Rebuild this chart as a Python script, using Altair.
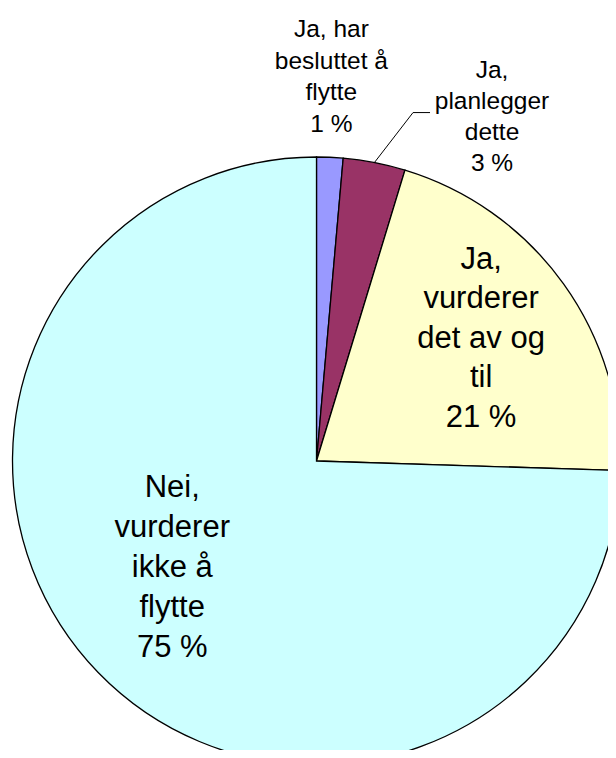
import math
import altair as alt
import pandas as pd

# ---- data -------------------------------------------------------------
categories = [
    "Ja, har besluttet å flytte",
    "Ja, planlegger dette",
    "Ja, vurderer det av og til",
    "Nei, vurderer ikke å flytte",
]
values = [1.4, 3.3, 20.8, 74.5]
pct_labels = ["1 %", "3 %", "21 %", "75 %"]
label_lines = [
    ["Ja, har", "besluttet å", "flytte"],
    ["Ja,", "planlegger", "dette"],
    ["Ja,", "vurderer", "det av og", "til"],
    ["Nei,", "vurderer", "ikke å", "flytte"],
]
colors = ["#9999FF", "#993366", "#FFFFCC", "#CCFFFF"]

# ---- layout / style ---------------------------------------------------
W, H = 600, 742
CX, CY = 308.5, 453.0
R = 304
FONT = "Liberation Sans"
total = sum(values)

df = pd.DataFrame({
    "idx": list(range(len(categories))),
    "category": categories,
    "value": values,
    "label": ["\n".join(l + [p]) for l, p in zip(label_lines, pct_labels)],
})

theta_scale = alt.Scale(domain=[0, total], range=[0, 2 * math.pi])

base = (
    alt.Chart(df)
    .transform_stack(stack="value", groupby=[], as_=["v0", "v1"],
                     sort=[alt.SortField("idx", order="ascending")])
    .transform_calculate(mid="(datum.v0 + datum.v1) / 2")
)

arcs = base.mark_arc(radius=R, stroke="black", strokeWidth=1.3).encode(
    theta=alt.Theta("v0:Q", scale=theta_scale),
    theta2="v1:Q",
    color=alt.Color("category:N", scale=alt.Scale(domain=categories, range=colors), legend=None),
    x=alt.value(CX),
    y=alt.value(CY),
)

# per-label placement: (radius, dx, dy, fontSize, lineHeight)
label_style = [
    (384, -2, 0, 24.5, 31.5),
    (386, 102, 35, 24.5, 31),
    (205, -2, -3, 31, 39.5),
    (180, -15, -18, 31, 40),
]

texts = []
for i, (rr, ddx, ddy, fs, lh) in enumerate(label_style):
    n_lines = len(label_lines[i]) + 1
    texts.append(
        base.transform_filter(alt.datum.idx == i)
        .mark_text(radius=rr, dx=ddx, dy=ddy - (n_lines - 1) / 2 * lh,
                   fontSize=fs, lineHeight=lh,
                   font=FONT, lineBreak="\n", align="center", baseline="middle",
                   color="black")
        .encode(
            theta=alt.Theta("mid:Q", scale=theta_scale),
            text="label:N",
            x=alt.value(CX),
            y=alt.value(CY),
        )
    )

# leader line for the 3 % slice, starting at the slice's mid angle on the rim
cum = 0.0
mids = []
for v in values:
    mids.append((cum + v / 2) / total * 2 * math.pi)
    cum += v
a = mids[1]
sx, sy = CX + R * math.sin(a), CY - R * math.cos(a)
lab_x = CX + 386 * math.sin(a) + 102
lab_y = CY - 386 * math.cos(a) + 35
leader = pd.DataFrame({
    "o": [0, 1, 2],
    "px": [sx, lab_x - 79, lab_x - 62],
    "py": [sy, lab_y - 4.5, lab_y - 4.5],
})
leader_line = alt.Chart(leader).mark_line(color="black", strokeWidth=1).encode(
    x=alt.X("px:Q", scale=None),
    y=alt.Y("py:Q", scale=None),
    order="o:Q",
)

chart = (
    alt.layer(arcs, leader_line, *texts)
    .properties(width=W, height=H, padding=0, autosize=alt.AutoSizeParams(type="none"))
    .configure_view(stroke=None)
)

chart.save("out.html", embed_options={"renderer": "svg", "actions": False})
